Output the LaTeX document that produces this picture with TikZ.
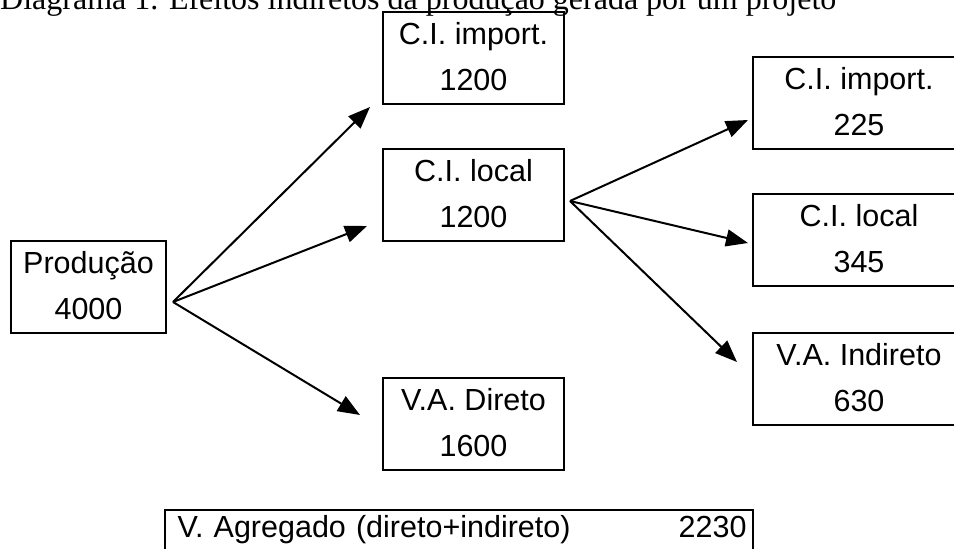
\documentclass[tikz,border=0pt]{standalone}
\usepackage{fontspec}
\setmainfont{Liberation Serif}
\setsansfont{Liberation Sans}
\usepackage{tikz}
\usetikzlibrary{positioning,arrows.meta,calc}
\tikzset{
  >={Triangle[length=22pt,width=17pt]},
  % --- nodes
  blk/.style   = {draw=black, line width=2pt, anchor=north west, align=center,
                  inner xsep=0pt, inner ysep=0pt,
                  font=\sffamily\fontsize{30.5}{46}\selectfont},
  mid/.style   = {blk, minimum width=181pt},
  side/.style  = {blk, minimum width=212pt},
  sumbox/.style= {blk, align=left, minimum width=588pt, text width=575pt,
                  text height=27pt, text depth=30pt},
  ttl/.style   = {anchor=base west, inner sep=0pt,
                  font=\rmfamily\fontsize{32}{38}\selectfont},
  % --- edges
  e/.style     = {->, line width=2pt, draw=black},
}
\begin{document}
\begin{tikzpicture}[x=1pt,y=-1pt]
  \clip (0,0) rectangle (954,549);
  \fill[white] (0,0) rectangle (954,549);

  \node[ttl] (title) at (0,9) {Diagrama 1. Efeitos indiretos da produção gerada por um projeto};

  \node[blk, minimum width=155pt] (prod) at (10,240) {\strut Produção\\\strut 4000};

  \node[mid] (ciimp)   at (382,11)  {\strut C.I. import.\\\strut 1200};
  \node[mid] (cilocal) at (382,148) {\strut C.I. local\\\strut 1200};
  \node[mid] (vadir)   at (382,377) {\strut V.A. Direto\\\strut 1600};

  \node[side] (ciimpb)   at (752,56)  {\strut C.I. import.\\\strut 225};
  \node[side] (cilocalb) at (752,193) {\strut C.I. local\\\strut 345};
  \node[side] (vaind)    at (752,332) {\strut V.A. Indireto\\\strut 630};

  \node[sumbox] (total) at (164,509) {\hspace{6pt}V. Agregado (direto+indireto)\hfill 2230};

  % fork points and arrow tips
  \coordinate (prodout)  at (173,302);
  \coordinate (localout) at (570,201);
  \coordinate (toimp)    at (370,107);
  \coordinate (tolocal)  at (367,226);
  \coordinate (todir)    at (360,415);
  \coordinate (toimpb)   at (748,120);
  \coordinate (tolocalb) at (748,243);
  \coordinate (toind)    at (737,362);

  \foreach \a/\b in {prodout/toimp,prodout/tolocal,prodout/todir,
                     localout/toimpb,localout/tolocalb,localout/toind}
    \draw[e] (\a) -- (\b);
\end{tikzpicture}
\end{document}
